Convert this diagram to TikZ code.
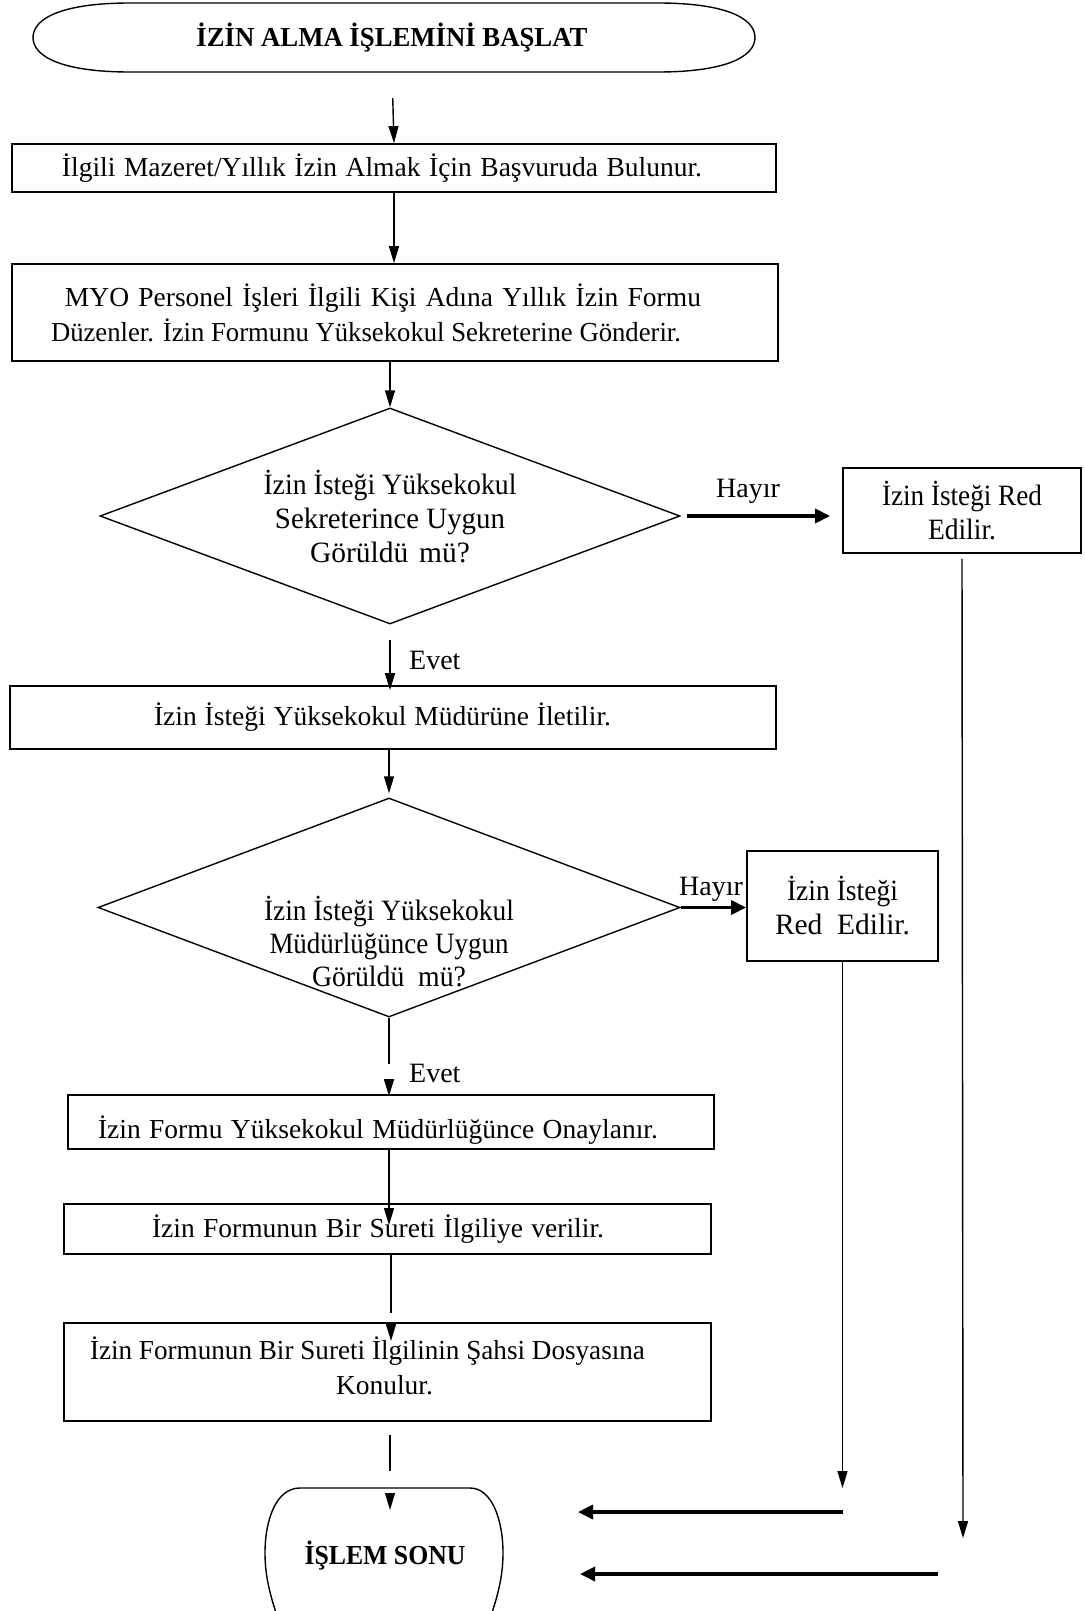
\documentclass[tikz,border=0pt]{standalone}
\usepackage{fontspec}
\setmainfont{Liberation Serif}
\usetikzlibrary{arrows.meta,shapes.geometric}
% set a text to a given width: widen its spaces, or squeeze it if too long
\newlength\natw
\newcommand\fitw[2]{{\spaceskip=0pt\xspaceskip=0pt\settowidth\natw{#2}%
  \ifdim\natw<#1pt\relax\makebox[#1pt][s]{#2}\else\resizebox{#1pt}{\height}{#2}\fi}}
% one line of text, indented and set to a given width
\newcommand\lineat[3]{\hspace*{#1pt}\fitw{#2}{#3}}
\tikzset{
  txt/.style={inner sep=0pt, font=\fontsize{27.5}{35}\selectfont},
  big/.style={font=\fontsize{29.5}{34}\selectfont},
  box/.style={txt, draw, line width=1.8pt, align=left},
  dia/.style={draw, diamond, inner sep=0pt, line width=1.4pt},
  ln/.style={line width=1.4pt},
  arr/.style={ln, -{Triangle[length=17pt,width=10pt]}},
  thk/.style={line width=3.4pt, -{Triangle[length=15pt,width=14pt]}},
  lbl/.style={txt, anchor=west, font=\fontsize{28}{35}\selectfont},
}
\begin{document}
\begin{tikzpicture}[x=1pt,y=-1pt]
\useasboundingbox (0,0) rectangle (1084,1611);
\fill[white] (0,0) rectangle (1084,1611);

% start terminal
\node[txt, minimum width=722pt, minimum height=69pt, font=\fontsize{27.5}{35}\selectfont\bfseries] (start) at (392,37.5) {\fitw{391}{İZİN ALMA İŞLEMİNİ BAŞLAT}};
\draw[ln] (130,3) -- (658,3) .. controls (725,3) and (755,18) .. (755,37.5)
  .. controls (755,57) and (725,72) .. (658,72) -- (130,72)
  .. controls (63,72) and (33,57) .. (33,37.5) .. controls (33,18) and (63,3) .. (130,3) -- cycle;

% process boxes
\node[box, text width=764pt, minimum height=48pt] (b1) at (394,168)
  {\lineat{50}{640}{İlgili Mazeret/Yıllık İzin Almak İçin Başvuruda Bulunur.}};
\node[box, text width=766pt, minimum height=97pt] (b2) at (395,312.5)
  {\lineat{53}{636}{MYO Personel İşleri İlgili Kişi Adına Yıllık İzin Formu}\\
   \lineat{39}{630}{Düzenler. İzin Formunu Yüksekokul Sekreterine Gönderir.}};
\node[box, text width=766pt, minimum height=63pt] (b3) at (393,717.5)
  {\lineat{144}{457}{İzin İsteği Yüksekokul Müdürüne İletilir.}};
\node[box, text width=646pt, minimum height=54pt] (b4) at (391,1122)
  {\raisebox{-8pt}[\height][\depth]{\lineat{30}{560}{İzin Formu Yüksekokul Müdürlüğünce Onaylanır.}}};
\node[box, text width=647pt, minimum height=50pt] (b5) at (387.5,1229)
  {\lineat{88}{452}{İzin Formunun Bir Sureti İlgiliye verilir.}};
\node[box, text width=647pt, minimum height=98pt] (b6) at (387.5,1372)
  {\raisebox{6pt}[\height][\depth]{\lineat{26}{555}{İzin Formunun Bir Sureti İlgilinin Şahsi Dosyasına}}\\
   \raisebox{6pt}[\height][\depth]{\lineat{272}{97}{Konulur.}}};

% rejection boxes
\node[box, big, align=center, text width=238pt, minimum height=85pt] (red1) at (962,510.5)
  {\fitw{160}{İzin İsteği Red}\\ \fitw{68}{Edilir.}};
\node[box, big, align=center, text width=191pt, minimum height=110pt] (red2) at (842.5,906)
  {\fitw{111}{İzin İsteği}\\ \fitw{135}{Red\ \ Edilir.}};

% decisions
\node[dia, minimum width=580pt, minimum height=216pt] (d1) at (390,516) {};
\node[txt, big, align=center] (d1t) at (390,517)
  {\fitw{253}{İzin İsteği Yüksekokul}\\ \fitw{230}{Sekreterince Uygun}\\ \fitw{160}{Görüldü mü?}};
\node[dia, minimum width=582pt, minimum height=219pt] (d2) at (389,907.5) {};
\node[txt, big, align=center, font=\fontsize{29.5}{33}\selectfont] (d2t) at (389,942)
  {\fitw{250}{İzin İsteği Yüksekokul}\\ \fitw{239}{Müdürlüğünce Uygun}\\ \fitw{154}{Görüldü\ \ mü?}};

% end terminal
\node[txt, font=\fontsize{27.5}{35}\selectfont\bfseries] (end) at (385,1556) {\fitw{161}{İŞLEM SONU}};
\begin{scope}
\clip (0,0) rectangle (1084,1611);
\draw[ln] (282,1630) .. controls (272,1602) and (265,1580) .. (265,1553)
  .. controls (265,1520) and (276,1488) .. (300,1488) -- (470,1488)
  .. controls (492,1488) and (503,1520) .. (503,1553)
  .. controls (503,1580) and (496,1602) .. (486,1630);
\end{scope}

% labels
\node[lbl] (h1) at (716,491) {Hayır};
\node[lbl] (h2) at (679,889) {Hayır};
\node[lbl] (e1) at (409,660) {Evet};
\node[lbl] (e2) at (409,1073) {Evet};

% free ends of connectors
\coordinate (r1end) at (963,1538);
\coordinate (r2end) at (842.5,1488);
\coordinate (g1a) at (389,1064);
\coordinate (g1b) at (389,1079);
\coordinate (g2a) at (391,1313);
\coordinate (g2b) at (391,1324);
\coordinate (g2c) at (391,1341);
\coordinate (g3a) at (390,1471);
\coordinate (g3b) at (390,1493);
\coordinate (g3c) at (390,1510);
\coordinate (a1s) at (843,1512);
\coordinate (a1e) at (578,1512);
\coordinate (a2s) at (938,1574);
\coordinate (a2e) at (580,1574);

% connectors
\draw[arr, shorten <=26pt] (start.south) -- (b1.north);
\draw[arr] (b1.south) -- (b1.south |- b2.north);
\draw[arr] (b2.south -| d1.north) -- (d1.north);
\draw[thk, shorten <=6pt, shorten >=12pt] (d1.east) -- (d1.east -| red1.west);
\draw[arr, shorten <=15pt, shorten >=-5pt] (d1.south) -- (d1.south |- b3.north);
\draw[arr, shorten <=5pt] (red1.south) -- (r1end);
\draw[arr, shorten >=4pt] (b3.south -| d2.north) -- (d2.north);
\draw[thk] (d2.east) -- (d2.east -| red2.west);
\draw[arr] (red2.south) -- (r2end);
\draw[ln] (d2.south) -- (g1a);
\draw[arr, shorten >=-2pt] (g1b) -- (g1b |- b4.north);
\draw[arr, shorten >=-22pt] (b4.south -| g1b) -- (g1b |- b5.north);
\draw[ln] (b5.south -| g2a) -- (g2a);
\draw[arr] (g2b) -- (g2c);
\draw[ln, shorten <=13pt] (b6.south -| g3a) -- (g3a);
\draw[arr] (g3b) -- (g3c);
\draw[thk] (a1s) -- (a1e);
\draw[thk] (a2s) -- (a2e);
\end{tikzpicture}
\end{document}
